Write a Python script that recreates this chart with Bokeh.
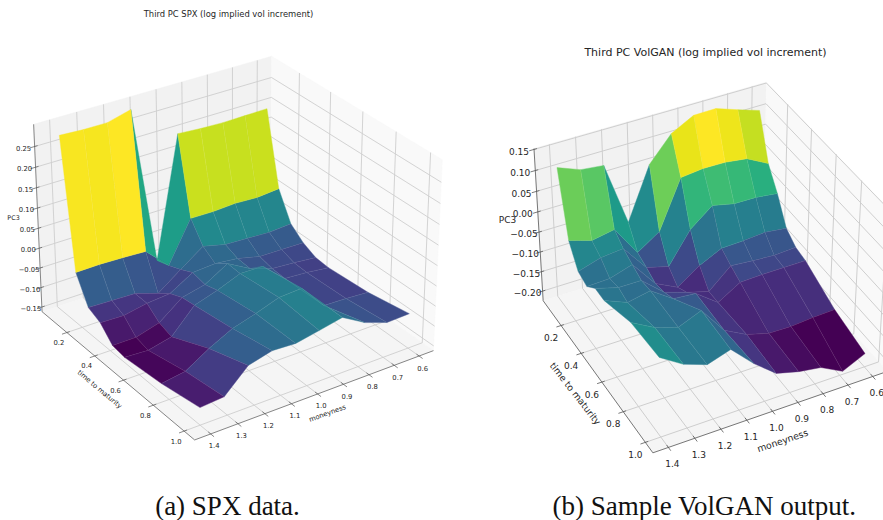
import numpy as np
from bokeh.plotting import figure
from bokeh.embed import file_html
from bokeh.resources import INLINE
from bokeh.core.properties import value
from bokeh.palettes import Viridis256

MONEYNESS = [1.4,1.3111,1.2222,1.1333,1.0444,0.9556,0.8667,0.7778,0.6889,0.6]
TAU = [0.0833,0.1667,0.25,0.3333,0.4167,0.5,0.75,1.0]
PC3_SPX = [
[0.282,0.279,0.279,0.294,-0.101,0.202,0.198,0.196,0.197,0.198],
[-0.032,-0.031,-0.033,-0.036,-0.091,0.011,0.01,0.013,0.01,0.015],
[-0.097,-0.099,-0.101,-0.12,-0.078,-0.038,-0.052,-0.055,-0.058,-0.054],
[-0.111,-0.113,-0.102,-0.097,-0.063,-0.059,-0.065,-0.079,-0.08,-0.081],
[-0.144,-0.144,-0.127,-0.083,-0.07,-0.036,-0.068,-0.087,-0.091,-0.097],
[-0.149,-0.152,-0.138,-0.079,-0.061,-0.038,-0.039,-0.089,-0.093,-0.1],
[-0.138,-0.129,-0.093,-0.064,-0.047,-0.027,-0.024,-0.087,-0.089,-0.093],
[-0.119,-0.114,-0.059,-0.044,-0.047,-0.036,-0.024,-0.057,-0.077,-0.075]]
PC3_VOLGAN = [
[0.117,0.096,0.09,-0.066,0.06,0.119,0.147,0.148,0.13,0.113],
[-0.033,-0.05,-0.04,-0.115,-0.079,0.038,0.044,0.043,0.036,0.008],
[-0.082,-0.065,-0.06,-0.125,-0.14,-0.064,-0.021,-0.033,-0.034,-0.041],
[-0.091,-0.089,-0.072,-0.137,-0.165,-0.127,-0.101,-0.099,-0.095,-0.102],
[-0.067,-0.083,-0.083,-0.131,-0.149,-0.165,-0.117,-0.122,-0.126,-0.123],
[-0.068,-0.091,-0.08,-0.118,-0.123,-0.164,-0.131,-0.129,-0.129,-0.129],
[-0.034,-0.065,-0.083,-0.06,-0.128,-0.157,-0.173,-0.174,-0.17,-0.168],
[-0.028,-0.064,-0.084,-0.066,-0.12,-0.164,-0.179,-0.188,-0.217,-0.191]]
M_TICKS = [0.6,0.7,0.8,0.9,1.0,1.1,1.2,1.3,1.4]
T_TICKS = [0.2,0.4,0.6,0.8,1.0]
Z_TICKS_SPX = [-0.15,-0.10,-0.05,0.0,0.05,0.10,0.15,0.20,0.25]
Z_TICKS_VOLGAN = [-0.20,-0.15,-0.10,-0.05,0.0,0.05,0.10,0.15]

def lim(lo,hi):
    r=hi-lo; lo2,hi2=lo-.05*r,hi+.05*r; d=(hi2-lo2)/48
    return lo2-d,hi2+d
MLIM=lim(.6,1.4); TLIM=lim(TAU[0],1.0)

def cam(q):
    elev,azim,s,cx,cy,zs=q
    box=np.array([4,4,3*zs],float)*1.8294640721620434*25/24/np.linalg.norm([4,4,3])
    el,az=np.radians(elev),np.radians(azim)
    w=np.array([np.cos(el)*np.cos(az),np.cos(el)*np.sin(az),np.sin(el)])
    E=box/2+10*w
    u=np.cross([0,0,1],w);u/=np.linalg.norm(u);v=np.cross(w,u)
    def P(a,b,c):
        a,b,c=np.asarray(a,float),np.asarray(b,float),np.asarray(c,float)
        dx,dy,dz=(1-a)*box[0]-E[0],b*box[1]-E[1],c*box[2]-E[2]
        xv=dx*u[0]+dy*u[1]+dz*u[2];yv=dx*v[0]+dy*v[1]+dz*v[2];zv=dx*w[0]+dy*w[1]+dz*w[2]
        return cx+s*xv/(-zv),cy-s*yv/(-zv),-zv
    return P
def A(m): return (MLIM[1]-np.asarray(m,float))/(MLIM[1]-MLIM[0])
def B(t): return (np.asarray(t,float)-TLIM[0])/(TLIM[1]-TLIM[0])

p=figure(width=883,height=520,x_range=(0,883),y_range=(520,0),output_backend="svg",toolbar_location=None,min_border=0)
p.axis.visible=False;p.grid.visible=False;p.outline_line_color=None

def txt(x,y,s,size,color="#262626",angle=0,font="DejaVu Sans"):
    p.text(x=[x],y=[y],text=[s],text_font=value(font),text_font_size=value(size),text_color=color,
           text_align="center",text_baseline="middle",angle=angle)

def panel(q,zg,zl,zticks,cfg):
    zg=np.array(zg);P=cam(q);C=lambda z:(np.asarray(z,float)-zl[0])/(zl[1]-zl[0])
    def poly(pts,col):
        a=np.array(pts,float);x,y,_=P(a[:,0],a[:,1],a[:,2]);p.patch(x,y,fill_color=col,line_color=col,line_width=.5)
    def line(pts,col,w):
        a=np.array(pts,float);x,y,_=P(a[:,0],a[:,1],a[:,2]);p.line(x,y,line_color=col,line_width=w)
    poly([(0,0,0),(1,0,0),(1,0,1),(0,0,1)],"#f2f2f2")
    poly([(1,0,0),(1,1,0),(1,1,1),(1,0,1)],"#f9f9f9")
    poly([(0,0,0),(1,0,0),(1,1,0),(0,1,0)],"#f5f5f5")
    gc="#cecece";gw=cfg["gw"]
    for m in M_TICKS:
        a=float(A(m));line([(a,1,0),(a,0,0),(a,0,1)],gc,gw)
    for t in T_TICKS:
        b=float(B(t));line([(0,b,0),(1,b,0),(1,b,1)],gc,gw)
    for z in zticks:
        c=float(C(z));line([(0,0,c),(1,0,c),(1,1,c)],gc,gw)
    ac="#555555";aw=cfg["aw"]
    line([(0,1,0),(1,1,0)],ac,aw);line([(0,0,0),(0,1,0)],ac,aw);line([(0,0,0),(0,0,1)],ac,aw)
    fs=cfg["tick"]
    for m in M_TICKS:
        a=float(A(m));line([(a,.985,0),(a,1.02,0)],ac,aw)
        x,y,_=P(a,1,0);txt(float(x)+cfg["om"][0],float(y)+cfg["om"][1],"%.1f"%m,fs)
    for t in T_TICKS:
        b=float(B(t));line([(-.02,b,0),(.012,b,0)],ac,aw)
        x,y,_=P(0,b,0);txt(float(x)+cfg["ot"][0],float(y)+cfg["ot"][1],"%.1f"%t,fs)
    for z in zticks:
        c=float(C(z));line([(-.02,0,c),(.012,0,c)],ac,aw)
        x,y,_=P(0,0,c);txt(float(x)+cfg["oz"][0],float(y)+cfg["oz"][1],("%.2f"%z).replace("-","\u2212"),fs)
    AA=A(MONEYNESS);BB=B(TAU);CC=C(zg);xs=[];ys=[];ds=[];ms=[]
    for i in range(len(TAU)-1):
        for j in range(len(MONEYNESS)-1):
            idx=[(i,j),(i,j+1),(i+1,j+1),(i+1,j)]
            x,y,d=P([AA[n] for _,n in idx],[BB[k] for k,_ in idx],[CC[k,n] for k,n in idx])
            xs.append(x.tolist());ys.append(y.tolist());ds.append(d.mean());ms.append(np.mean([zg[k,n] for k,n in idx]))
    ms=np.array(ms);nm=(ms-ms.min())/(ms.max()-ms.min());o=np.argsort(ds)[::-1]
    cols=[Viridis256[int(nm[k]*255)] for k in o]
    p.patches([xs[k] for k in o],[ys[k] for k in o],fill_color=cols,line_color=cols,line_width=.4)
    p.patches([xs[k] for k in o],[ys[k] for k in o],fill_alpha=0,line_color="white",line_alpha=.07,line_width=.6)
    for (x,y,s,ang,size) in cfg["labels"]:
        txt(x,y,s,size,angle=ang)

panel([28.974,55.878,2418.217,234.601,237.86,1.001],PC3_SPX,(-.162,.303),Z_TICKS_SPX,dict(
    gw=.9,aw=.7,tick="6.8px",om=(3.5,12),ot=(-8,10),oz=(-11,1.5),
    labels=[(228,13,"Third PC SPX (log implied vol increment)",0,"8.4px"),
            (13,217,"PC3",0,"6.4px"),
            (99,389,"time to maturity",np.radians(-40),"6.8px"),
            (327,413,"moneyness",np.radians(20),"6.8px")]))
panel([37.908,62.803,2202.266,711.19,260.3,.988],PC3_VOLGAN,(-.225,.152),Z_TICKS_VOLGAN,dict(
    gw=1,aw=.8,tick="9px",om=(4,16),ot=(-10,12),oz=(-15,1.7),
    labels=[(705,52,"Third PC VolGAN (log implied vol increment)",0,"11px"),
            (507,219,"PC3",0,"9px"),
            (575,393,"time to maturity",np.radians(-52),"9.3px"),
            (782,440,"moneyness",np.radians(18.7),"9.3px")]))
txt(227,505,"(a) SPX data.","27px",color="#111111",font="Liberation Serif")
txt(704,505,"(b) Sample VolGAN output.","27px",color="#111111",font="Liberation Serif")
open("out.html","w").write(file_html(p,INLINE))
